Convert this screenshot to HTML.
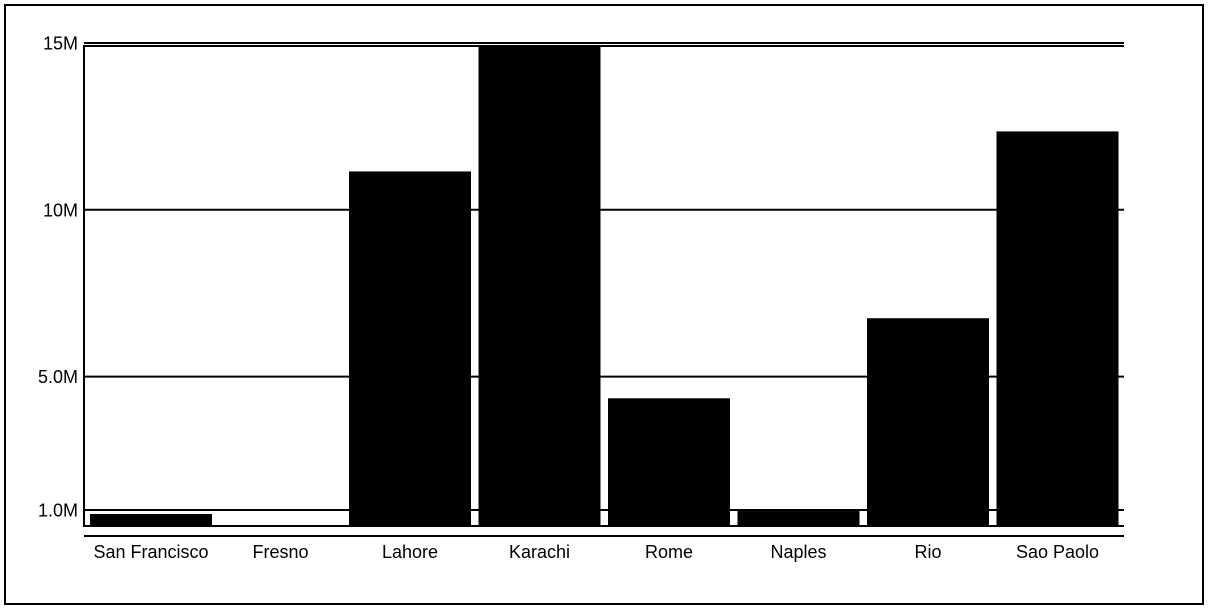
<!DOCTYPE html>
<html><head><meta charset="utf-8"><style>
html,body{margin:0;padding:0;background:#fff}
svg{display:block;font-family:"Liberation Sans",Arial,sans-serif}
</style></head><body>
<svg width="1208" height="610">
<rect x="5" y="5" width="1198" height="599" fill="#fff" stroke="#000" stroke-width="2"/>
<g id="grid"></g><g id="bars"></g><g id="axes"></g>
</svg>
<script>
const categories=["San Francisco","Fresno","Lahore","Karachi","Rome","Naples","Rio","Sao Paolo"];
const values=[0.88,0.5,11.15,14.95,4.35,0.97,6.75,12.35];
const tickValues=[1,5,10,15];
const tickLabels=["1.0M","5.0M","10M","15M"];
const NS="http://www.w3.org/2000/svg";
const X0=84,X1=1124,YB=526,YT=46;
const y=v=>543.4-(v)*33.36;
const step=129.5,BW=122;
const xb=i=>90+i*step;
function mk(t,a,p){const e=document.createElementNS(NS,t);for(const k in a)e.setAttribute(k,a[k]);p.appendChild(e);return e;}
const grid=document.getElementById('grid'),bars=document.getElementById('bars'),axes=document.getElementById('axes');
tickValues.forEach((v,i)=>{
 const l=mk('line',{x1:X0,x2:X1,y1:y(v),y2:y(v),stroke:'#000','stroke-width':2},grid);
 
 
 const t=mk('text',{x:X0-6,y:y(v)+6.5,'text-anchor':'end','font-size':18},axes);t.textContent=tickLabels[i];
 
 
});
categories.forEach((c,i)=>{
 const top=Math.max(y(values[i]),YT);
 const r=mk('rect',{x:xb(i),y:top,width:BW,height:Math.max(0,YB-top),fill:'#000'},bars);
 
 
 const t=mk('text',{x:xb(i)+BW/2,y:558,'text-anchor':'middle','font-size':18},axes);t.textContent=c;
 
 
});
const f=[[X0,YT,X1,YT],[X0,YT-1,X0,YB+1],[X0,YB,X1,YB],[X0,536,X1,536]];
f.forEach((a,i)=>{const l=mk('line',{x1:a[0],y1:a[1],x2:a[2],y2:a[3],stroke:'#000','stroke-width':2},axes);
 
 });
</script>
</body></html>
